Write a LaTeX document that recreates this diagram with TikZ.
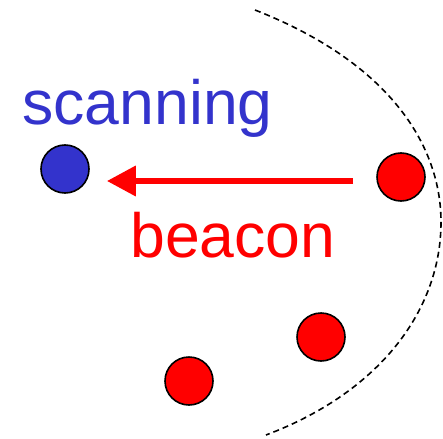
\documentclass[tikz,border=0pt]{standalone}
\usepackage{fontspec}
\setmainfont{Liberation Sans}
\usetikzlibrary{arrows.meta}
\definecolor{scanblue}{RGB}{51,51,204}
\tikzset{dev/.style={circle,draw=black,line width=1.6pt,minimum size=48pt,inner sep=0pt},
  big/.style={font=\fontsize{62.5}{75}\selectfont,anchor=base,inner sep=0pt}}
\begin{document}
\begin{tikzpicture}[x=1pt,y=-1pt]
\useasboundingbox (0,0) rectangle (443,438);
\node[dev,fill=scanblue] (scanner) at (65,169){};\node[dev,fill=red] (sender) at (401,177){};
\node[dev,fill=red] (nodeb) at (321,337){};\node[dev,fill=red] (nodec) at (189,381){};
\node[big,text=scanblue] (scanlabel) at (147.5,125){scanning};
\node[big,text=red] (beaconlabel) at (233,257){beacon};
\coordinate (arrowtail) at (353,181);
\draw[red,line width=6.5pt,-{Triangle[length=29pt,width=29pt]},shorten >=17pt] (arrowtail) -- (arrowtail -| scanner.east);
% range of the advertiser
\draw[dash pattern=on 6pt off 4pt,line width=1.6pt] (255,10) .. controls (395,65) and (441,150) .. (441,222) .. controls (441,310) and (380,392) .. (266,435);
\end{tikzpicture}
\end{document}
